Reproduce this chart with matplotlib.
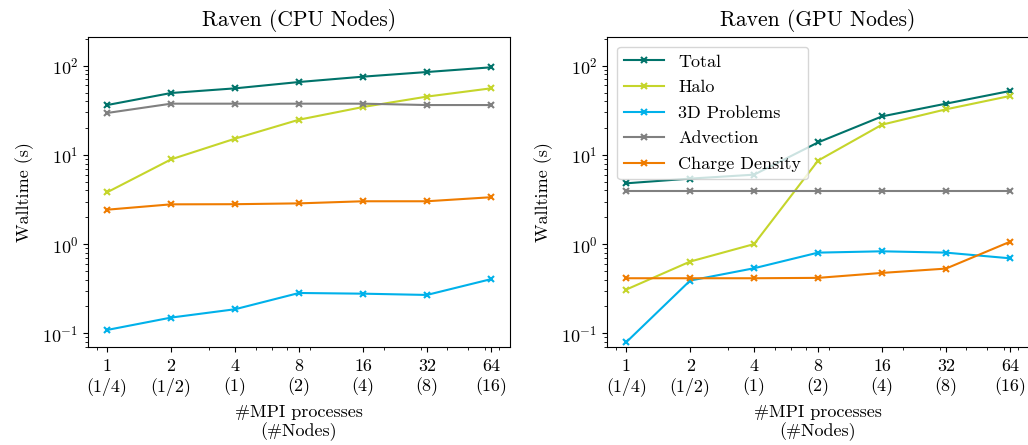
import numpy as np
import matplotlib
matplotlib.use("Agg")
import matplotlib.pyplot as plt
from matplotlib.ticker import FixedLocator, FixedFormatter, NullFormatter

plt.rcParams['font.family'] = 'serif'
plt.rcParams['font.serif'] = ['cmr10']
plt.rcParams['mathtext.fontset'] = 'cm'
plt.rcParams['axes.formatter.use_mathtext'] = True
plt.rcParams['font.size'] = 13
plt.rcParams['xtick.major.pad'] = 5

procs = [1, 2, 4, 8, 16, 32, 64]
tick_labels = ["1\n(1/4)", "2\n(1/2)", "4\n(1)", "8\n(2)", "16\n(4)", "32\n(8)", "64\n(16)"]
names = ["Total", "Halo", "3D Problems", "Advection", "Charge Density"]
colors = ["#00736a", "#c5d52b", "#00b1ea", "#808080", "#ef7c00"]

# CPU nodes walltimes (s)
cpu_total = [36.2, 49.4, 55.7, 65.6, 75.3, 84.9, 95.8]
cpu_halo = [3.81, 8.91, 15.2, 24.8, 34.4, 45.0, 55.7]
cpu_3d = [0.109, 0.150, 0.186, 0.283, 0.278, 0.269, 0.404]
cpu_advection = [29.5, 37.5, 37.5, 37.5, 37.5, 36.2, 36.2]
cpu_charge = [2.43, 2.79, 2.80, 2.86, 3.02, 3.02, 3.35]

# GPU nodes walltimes (s)
gpu_total = [4.80, 5.42, 6.0, 13.8, 27.0, 37.5, 52.0]
gpu_halo = [0.309, 0.637, 1.0, 8.62, 21.8, 32.4, 45.7]
gpu_3d = [0.0794, 0.390, 0.536, 0.802, 0.830, 0.802, 0.693]
gpu_advection = [3.97, 3.97, 3.97, 3.97, 3.97, 3.97, 3.97]
gpu_charge = [0.414, 0.414, 0.414, 0.418, 0.475, 0.531, 1.06]

cpu = [cpu_total, cpu_halo, cpu_3d, cpu_advection, cpu_charge]
gpu = [gpu_total, gpu_halo, gpu_3d, gpu_advection, gpu_charge]

fig = plt.figure(figsize=(10.28, 4.45), dpi=100)
ax1 = fig.add_axes([0.0856, 0.22, 0.4105, 0.697])
ax2 = fig.add_axes([0.5905, 0.22, 0.4105, 0.697])

for ax, data, title in [(ax1, cpu, "Raven (CPU Nodes)"), (ax2, gpu, "Raven (GPU Nodes)")]:
    for name, vals, c in zip(names, data, colors):
        ax.plot(procs, vals, marker='x', ms=4, mew=1.5, lw=1.5, color=c, label=name)
    ax.set_xscale('log')
    ax.set_yscale('log')
    ax.xaxis.set_major_locator(FixedLocator(procs))
    ax.xaxis.set_major_formatter(FixedFormatter(tick_labels))
    ax.xaxis.set_minor_formatter(NullFormatter())
    ax.set_ylim(0.07, 210)
    ax.set_title(title, fontsize=15.5, pad=8)
    ax.set_ylabel("Walltime (s)", labelpad=6)
    ax.set_xlabel("#MPI processes\n(#Nodes)", labelpad=6)

ax2.legend(loc='upper left', fontsize=13, handlelength=2.2, handletextpad=0.8,
           labelspacing=0.55, borderaxespad=0.55)

fig.savefig("out.png", dpi=100)
